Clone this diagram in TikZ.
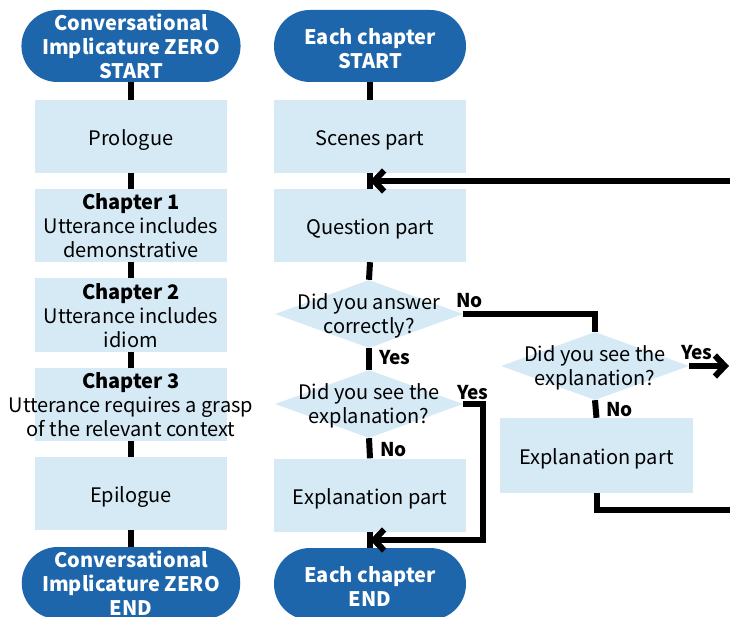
\documentclass[tikz,border=0pt]{standalone}
\usepackage{fontspec}
\setmainfont{Noto Sans CJK JP}
\usetikzlibrary{arrows.meta,shapes.geometric,shapes.misc}
\definecolor{termblue}{RGB}{30,102,172}
\definecolor{boxblue}{RGB}{214,234,246}
% invisible strut that lowers a node's text block
\newcommand\lowr[1]{\rule{0pt}{#1}}

\begin{document}
\begin{tikzpicture}[x=1pt,y=-1pt,
  font=\fontsize{20}{24}\selectfont,
  term/.style={rounded rectangle, fill=termblue, text=white,
    font=\fontsize{20}{24}\selectfont\bfseries, minimum width=192pt,
    minimum height=72pt, inner sep=0pt, align=center},
  stepbox/.style={rectangle, fill=boxblue, minimum width=192pt,
    minimum height=73pt, inner sep=0pt, align=center},
  dia/.style={diamond, fill=boxblue, minimum width=188pt,
    minimum height=68pt, inner sep=0pt},
  diatext/.style={align=center, inner sep=0pt},
  conn/.style={line width=6pt},
  arr/.style={conn, -{Straight Barb[length=10pt,width=21pt]}},
  lab/.style={font=\fontsize{19}{22}\selectfont\bfseries, inner sep=0pt, anchor=west}
]
\clip (0,0) rectangle (730,617);
\useasboundingbox (0,0) rectangle (730,617);

% ---- overall book flow ----
\node[term] (t1) at (131,46) {\lowr{17pt}Conversational\\Implicature ZERO\\START};
\node[stepbox] (b0) at (131,136.5) {\lowr{23pt}Prologue};
\node[stepbox] (b1) at (131,225.5) {\lowr{17pt}\textbf{Chapter 1}\\Utterance includes\\demonstrative};
\node[stepbox] (b2) at (131,315) {\lowr{17pt}\textbf{Chapter 2}\\Utterance includes\\idiom};
\node[stepbox] (b3) at (131,404.5) {\lowr{17pt}\textbf{Chapter 3}\\\makebox[180pt][c]{Utterance requires a grasp}\\\makebox[180pt][c]{of the relevant context}};
\node[stepbox] (b4) at (131,493.5) {\lowr{23pt}Epilogue};
\node[term] (t2) at (131,583) {\lowr{17pt}Conversational\\Implicature ZERO\\END};

\draw[conn] (t1.south) -- (b0.north);
\draw[conn] (b0.south) -- (b1.north);
\draw[conn] (b1.south) -- (b2.north);
\draw[conn] (b2.south) -- (b3.north);
\draw[conn] (b3.south) -- (b4.north);
\draw[conn] (b4.south) -- (t2.north);

% ---- flow within each chapter ----
\node[term] (t3) at (370,46) {\lowr{21pt}Each chapter\\START};
\node[stepbox] (s1) at (370,136.5) {\lowr{23pt}Scenes part};
\node[stepbox] (s2) at (370,225.5) {\lowr{23pt}Question part};
\node[dia] (d1) at (369,314) {};
\node[diatext] (d1t) at (369,314) {\lowr{20pt}Did you answer\\correctly?};
\node[dia] (d2) at (369,404) {};
\node[diatext] (d2t) at (369,404) {\lowr{20pt}Did you see the\\explanation?};
\node[stepbox] (s3) at (370,495) {\lowr{23pt}Explanation part};
\node[term] (t4) at (370,584) {\lowr{21pt}Each chapter\\END};

\node[dia] (d3) at (595,366) {};
\node[diatext] (d3t) at (595,366) {\lowr{20pt}Did you see the\\explanation?};
\node[stepbox, minimum width=193pt, minimum height=75pt] (s4) at (596.5,455.5) {\lowr{23pt}Explanation part};

\coordinate (m1) at (370,181);
\coordinate (m2) at (370,540);
\coordinate (loopin) at (731,181);
\coordinate (loopout) at (731,510);
\coordinate (yesout) at (729,366);

\draw[conn] (t3.south) -- (s1.north);
\draw[conn] (s1.south) -- (s2.north);
\draw[conn] (s2.south) -- (d1.north);
\draw[conn] (d1.south) -- (d2.north);
\draw[conn] (d2.south) -- (s3.north);
\draw[conn] (s3.south) -- (t4.north);
\draw[conn] (d1.east) -| (d3.north);
\draw[conn] (d3.south) -- (s4.north);
\draw[conn] (s4.south) |- (loopout);
\draw[arr] (loopin) -- (m1);
\draw[arr] (d2.east) -- ++(20,0) |- (m2);
\draw[arr] (d3.east) -- (yesout);

\node[lab] (l1) at (456,301) {No};
\node[lab] (l2) at (379,358) {Yes};
\node[lab] (l3) at (457,393) {Yes};
\node[lab] (l4) at (380,450) {No};
\node[lab] (l5) at (681,353) {Yes};
\node[lab] (l6) at (606,410) {No};
\end{tikzpicture}
\end{document}
